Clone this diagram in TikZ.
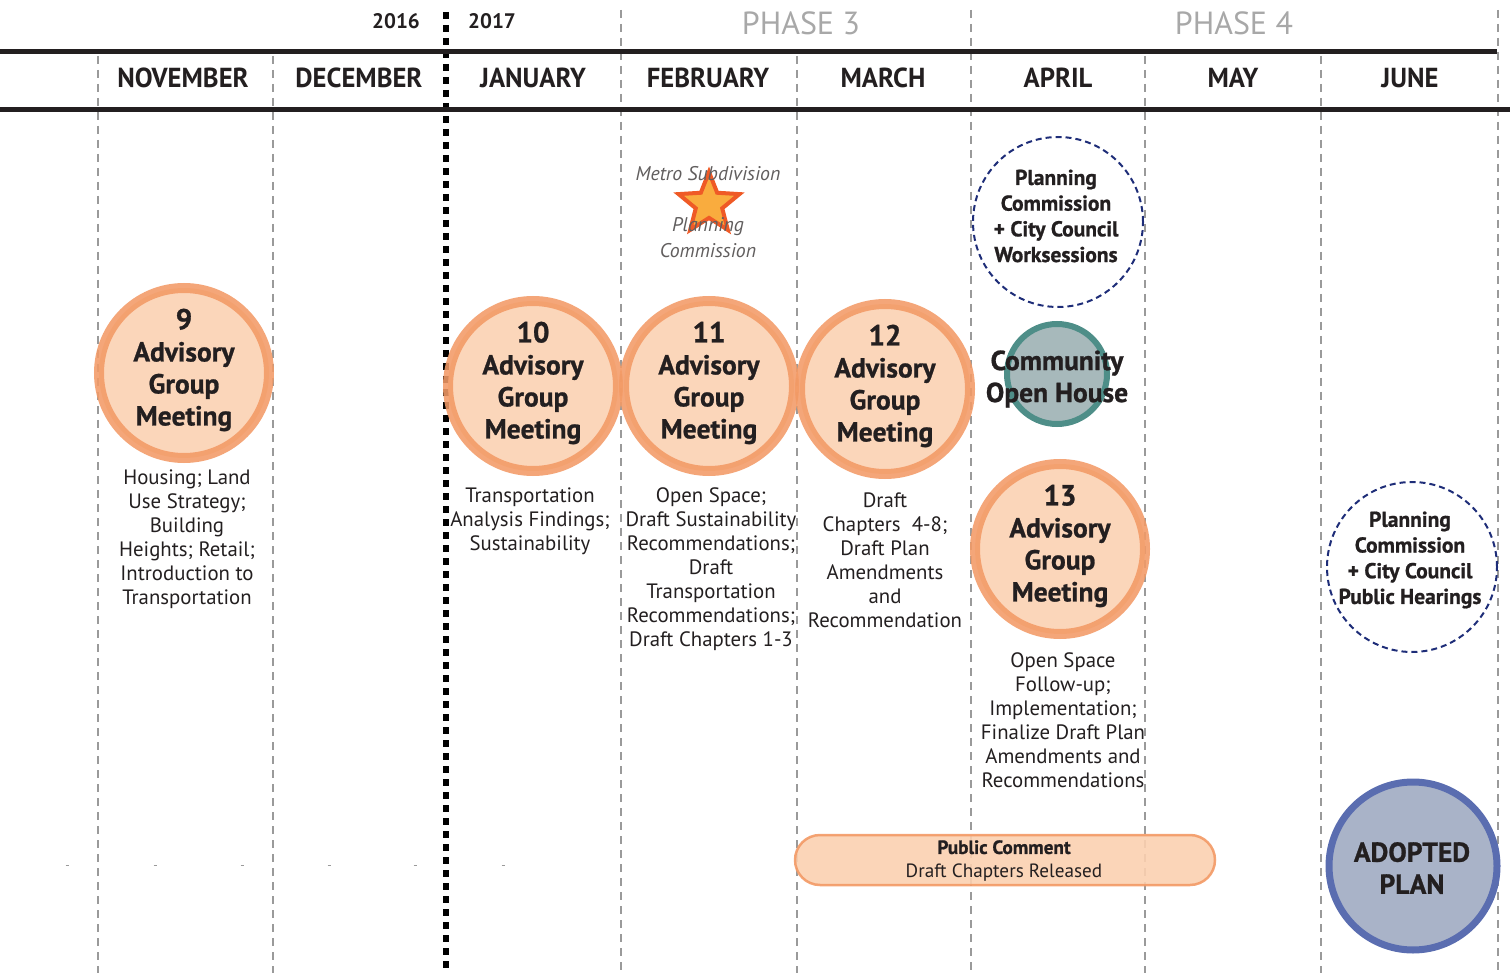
\documentclass[tikz,border=0pt]{standalone}
\usepackage{fontspec}
\setmainfont{PT Sans}
\newfontfamily\condfont[FakeStretch=0.97]{PT Sans}
\newfontfamily\heavyfont[FakeBold=0.9]{PT Sans Bold}
\usetikzlibrary{shapes.geometric}
\definecolor{peach}{HTML}{FBD0B0}
\definecolor{ringor}{HTML}{F39A66}
\definecolor{tealring}{HTML}{4E8E88}
\definecolor{tealfill}{HTML}{A7B9BB}
\definecolor{adfill}{HTML}{A9B3C8}
\definecolor{adring}{HTML}{5A6DB0}
\definecolor{navy}{HTML}{1E2D78}
\definecolor{divgray}{HTML}{9A9A9A}
\definecolor{phasegray}{HTML}{A8A8A8}
\definecolor{txt}{HTML}{231F20}
\definecolor{starfill}{HTML}{F9AC3E}
\definecolor{starline}{HTML}{EF5A26}
\tikzset{
  divider/.style={draw=divgray, line width=2pt, dash pattern=on 8pt off 6pt},
  yearline/.style={draw=black, line width=6.5pt, dash pattern=on 7pt off 6pt},
  bar/.style={draw=txt, line width=5pt},
  agm/.style={circle, minimum size=170pt, inner sep=0pt, fill=peach, draw=ringor, line width=10pt, opacity=0.88},
  agmtext/.style={align=center, text=txt, font=\heavyfont\fontsize{27.5}{32}\selectfont},
  desc/.style={align=center, text=txt, font=\fontsize{20.8}{24}\selectfont},
  month/.style={text=txt, font=\condfont\bfseries\fontsize{27.5}{30}\selectfont},
  phase/.style={text=phasegray, font=\fontsize{32}{34}\selectfont},
  year/.style={text=txt, font=\bfseries\fontsize{21}{22}\selectfont},
  pcircle/.style={circle, minimum size=170pt, inner sep=0pt, draw=navy, line width=2pt, dash pattern=on 6pt off 4pt},
  pctext/.style={align=center, text=txt, font=\heavyfont\fontsize{21.5}{25.7}\selectfont},
  tick/.style={draw=divgray, line width=1pt},
}
\begin{document}
\begin{tikzpicture}[x=1pt,y=-1pt]
\useasboundingbox (0,0) rectangle (1510,973);
% dividers
\foreach \x in {98,273,797,1145,1321} \draw[divider] (\x,56) -- (\x,973);
\foreach \x in {621,971,1498} \draw[divider] (\x,10) -- (\x,973);
\draw[yearline] (446,12) -- (446,973);
% bars
\draw[bar] (0,52) -- (1497,52);
\draw[bar] (0,110) -- (1510,110);
% tiny marks
\foreach \x in {67,155,242,329,415,503} \draw[tick] (\x-1.5,865) -- (\x+1.5,865);
% header text
\node[year] (y16) at (396,21) {2016};
\node[year] (y17) at (492,21) {2017};
\node[phase] (ph3) at (801,23) {PHASE 3};
\node[phase] (ph4) at (1234,23) {PHASE 4};
\node[month] (nov) at (183,78) {NOVEMBER};
\node[month] (dec) at (359,78) {DECEMBER};
\node[month] (jan) at (533,78) {JANUARY};
\node[month] (feb) at (708,78) {FEBRUARY};
\node[month] (mar) at (883,78) {MARCH};
\node[month] (apr) at (1058,78) {APRIL};
\node[month] (may) at (1233,78) {MAY};
\node[month] (jun) at (1410,78) {JUNE};
% advisory group circles
\node[agm] (c9) at (184,373) {};
\node[agm] (c10) at (533,386) {};
\node[agm] (c11) at (709,386) {};
\node[agm] (c12) at (885,389) {};
\node[agm] (c13) at (1060,549) {};
\node[agmtext] (t9) at (184,370) {{\fontsize{29}{32}\selectfont 9}\\Advisory\\Group\\Meeting};
\node[agmtext] (t10) at (533,383) {{\fontsize{29}{32}\selectfont 10}\\Advisory\\Group\\Meeting};
\node[agmtext] (t11) at (709,383) {{\fontsize{29}{32}\selectfont 11}\\Advisory\\Group\\Meeting};
\node[agmtext] (t12) at (885,386) {{\fontsize{29}{32}\selectfont 12}\\Advisory\\Group\\Meeting};
\node[agmtext] (t13) at (1060,546) {{\fontsize{29}{32}\selectfont 13}\\Advisory\\Group\\Meeting};
% descriptions
\node[desc, anchor=north] (d9) at (187,466) {Housing; Land\\Use Strategy;\\Building\\Heights; Retail;\\Introduction to\\Transportation};
\node[desc, anchor=north] (d10) at (530,484) {Transportation\\Analysis Findings;\\Sustainability};
\node[desc, anchor=north] (d11) at (711,484) {Open Space;\\Draft Sustainability\\Recommendations;\\Draft\\Transportation\\Recommendations;\\Draft Chapters 1-3};
\node[desc, anchor=north] (d12) at (885,489) {Draft\\Chapters\ \ 4-8;\\Draft Plan\\Amendments\\and\\Recommendation};
\node[desc, anchor=north] (d13) at (1063,649) {Open Space\\Follow-up;\\Implementation;\\Finalize Draft Plan\\Amendments and\\Recommendations};
% star
\node[star, star points=5, star point ratio=2.3, minimum size=64pt, inner sep=0pt, fill=starfill, draw=starline, line width=4pt] (star) at (709,204) {};
\node[text=txt!72, font=\itshape\fontsize{19.8}{25.5}\selectfont] (metro) at (708,174) {Metro Subdivision};
\node[align=center, text=txt!72, font=\itshape\fontsize{19.8}{26}\selectfont] (plc) at (708,238) {Planning\\Commission};
% planning commission dashed circles
\node[pcircle] (pw) at (1058,222) {};
\node[pctext] (pwt) at (1056,216) {Planning\\Commission\\+ City Council\\Worksessions};
\node[pcircle] (ph) at (1412,567) {};
\node[pctext] (pht) at (1410,560) {Planning\\Commission\\+ City Council\\Public Hearings};
% community open house
\node[circle, minimum size=100pt, inner sep=0pt, fill=tealfill, draw=tealring, line width=6pt] (coh) at (1057,374) {};
\node[align=center, text=txt, font=\heavyfont\fontsize{27.5}{32}\selectfont] (coht) at (1057,379) {Community\\Open House};
% public comment
\node[rectangle, rounded corners=25pt, minimum width=420pt, minimum height=50pt, fill=peach, draw=ringor, line width=2.5pt, opacity=0.9] (pc) at (1005,860) {};
\node[align=center, text=txt, font=\fontsize{19.2}{24}\selectfont] (pct) at (1004,861) {{\heavyfont Public Comment}\\Draft Chapters Released};
% adopted plan
\node[circle, minimum size=168pt, inner sep=0pt, fill=adfill, draw=adring, line width=7pt] (ad) at (1413,866) {};
\node[align=center, text=txt, font=\heavyfont\fontsize{27.5}{32}\selectfont] (adt) at (1412,868) {ADOPTED\\PLAN};
\end{tikzpicture}
\end{document}
